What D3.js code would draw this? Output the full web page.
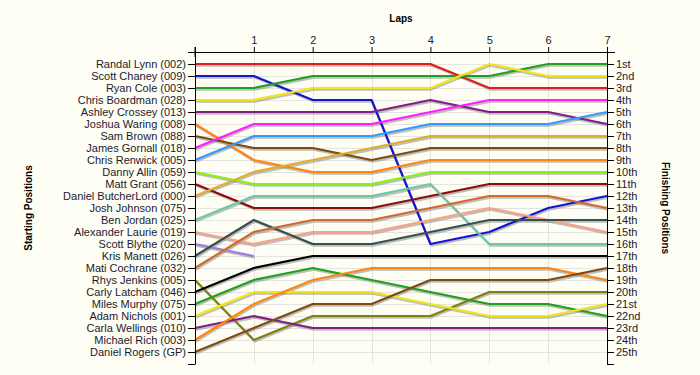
<!DOCTYPE html>
<html>
<head>
<meta charset="utf-8">
<script src="https://cdn.jsdelivr.net/npm/d3@7"></script>
<style>
  html, body { margin: 0; padding: 0; background: #fefef4; }
  svg { display: block; }
  text { font-family: Arial, "Liberation Sans", sans-serif; }
</style>
</head>
<body>
<script>
// ---- Data ----
const laps = [0, 1, 2, 3, 4, 5, 6, 7];
const startNames = [
  "Randal Lynn (002)", "Scott Chaney (009)", "Ryan Cole (003)", "Chris Boardman (028)",
  "Ashley Crossey (013)", "Joshua Waring (008)", "Sam Brown (088)", "James Gornall (018)",
  "Chris Renwick (005)", "Danny Allin (059)", "Matt Grant (056)", "Daniel ButcherLord (000)",
  "Josh Johnson (075)", "Ben Jordan (025)", "Alexander Laurie (019)", "Scott Blythe (020)",
  "Kris Manett (026)", "Mati Cochrane (032)", "Rhys Jenkins (005)", "Carly Latcham (046)",
  "Miles Murphy (075)", "Adam Nichols (001)", "Carla Wellings (010)", "Michael Rich (003)",
  "Daniel Rogers (GP)"
];
const finishLabels = [
  "1st", "2nd", "3rd", "4th", "5th", "6th", "7th", "8th", "9th", "10th",
  "11th", "12th", "13th", "14th", "15th", "16th", "17th", "18th", "19th", "20th",
  "21st", "22nd", "23rd", "24th", "25th"
];
// Position of each driver after each lap (lap 0 = grid), same order as startNames
const racePositions = [
  [1, 1, 1, 1, 1, 3, 3, 3],
  [2, 2, 4, 4, 16, 15, 13, 12],
  [3, 3, 2, 2, 2, 2, 1, 1],
  [4, 4, 3, 3, 3, 1, 2, 2],
  [5, 5, 5, 5, 4, 5, 5, 6],
  [6, 9, 10, 10, 9, 9, 9, 9],
  [7, 8, 8, 9, 8, 8, 8, 8],
  [8, 6, 6, 6, 5, 4, 4, 4],
  [9, 7, 7, 7, 6, 6, 6, 5],
  [10, 11, 11, 11, 10, 10, 10, 10],
  [11, 13, 13, 13, 12, 11, 11, 11],
  [12, 10, 9, 8, 7, 7, 7, 7],
  [],
  [14, 12, 12, 12, 11, 16, 16, 16],
  [15, 16, 15, 15, 14, 13, 14, 15],
  [16, 17],
  [17, 14, 16, 16, 15, 14, 14, 14],
  [18, 15, 14, 14, 13, 12, 12, 13],
  [19, 24, 22, 22, 22, 20, 20, 20],
  [20, 18, 17, 17, 17, 17, 17, 17],
  [21, 19, 18, 19, 20, 21, 21, 22],
  [22, 20, 20, 20, 21, 22, 22, 21],
  [23, 22, 23, 23, 23, 23, 23, 23],
  [24, 21, 19, 18, 18, 18, 18, 19],
  [25, 23, 21, 21, 19, 19, 19, 18]
];
const lineColors = [
  "#e01c1c", "#1414d2", "#1fa01f", "#f2e41a", "#7f1f86", "#ff8410", "#7e4a14", "#ff1cff",
  "#3399ff", "#86f20f", "#8b0a0a", "#dcae2c", "#000000", "#6cc8a4", "#fb9f85", "#9a7ce0",
  "#34504e", "#cf6a2a", "#808010", "#000000", "#1fa01f", "#f2e41a", "#7f1f86", "#ff8410",
  "#7e4a14"
];

// ---- Layout ----
const W = 700, H = 375;
const svg = d3.select("body").append("svg").attr("width", W).attr("height", H);
svg.append("rect").attr("width", W).attr("height", H).attr("fill", "#fefef4");

const x = d3.scaleLinear().domain([0, 7]).range([195, 607]);
const y = d3.scaleLinear().domain([0, 26]).range([52, 364]);
const positions = d3.range(1, 27);

// grid
const grid = svg.append("g").attr("stroke", "#e4e4e0").attr("stroke-width", 1);
grid.selectAll("line.h").data(d3.range(1, 26)).join("line")
  .attr("x1", x(0)).attr("x2", x(7))
  .attr("y1", d => Math.round(y(d)) + 0.5).attr("y2", d => Math.round(y(d)) + 0.5);
grid.selectAll("line.v").data(laps.slice(1, 7)).join("line")
  .attr("x1", d => Math.round(x(d)) + 0.5).attr("x2", d => Math.round(x(d)) + 0.5)
  .attr("y1", y(0)).attr("y2", y(26));

// lines
const line = d3.line().x((d, i) => x(laps[i])).y(d => y(d));
const series = racePositions.map((p, i) => ({ p, c: lineColors[i] })).filter(s => s.p.length > 1);

svg.append("g").selectAll("path").data(series).join("path")
  .attr("d", s => line(s.p))
  .attr("transform", "translate(1,1.6)")
  .attr("fill", "none").attr("stroke", "#8a8a8a").attr("stroke-opacity", 0.55)
  .attr("stroke-width", 2.2).attr("stroke-linejoin", "round");
svg.append("g").selectAll("path").data(series).join("path")
  .attr("d", s => line(s.p))
  .attr("fill", "none").attr("stroke", s => s.c)
  .attr("stroke-width", 2.2).attr("stroke-linejoin", "round");

// axes
const textColor = "#1a1a30";
const topAxis = svg.append("g").attr("transform", `translate(0,${y(0)})`)
  .call(d3.axisTop(x).tickValues(laps).tickFormat(d => d === 0 ? "" : d).tickSize(5).tickSizeOuter(0).tickPadding(3));
const leftAxis = svg.append("g").attr("transform", `translate(${x(0)},0)`)
  .call(d3.axisLeft(y).tickValues(positions).tickFormat(d => startNames[d - 1] || "").tickSize(7).tickSizeOuter(0).tickPadding(2));
const rightAxis = svg.append("g").attr("transform", `translate(${x(7)},0)`)
  .call(d3.axisRight(y).tickValues(positions).tickFormat(d => finishLabels[d - 1] || "").tickSize(7).tickSizeOuter(0).tickPadding(2));

[topAxis, leftAxis, rightAxis].forEach(g => {
  g.selectAll("text").attr("font-size", 11).attr("fill", textColor).attr("font-family", "Arial, 'Liberation Sans', sans-serif");
  g.selectAll("line").attr("stroke", "#000");
  g.select(".domain").attr("stroke", "#000");
});
// extend top axis line across tick area
svg.append("line").attr("x1", x(0) - 7).attr("x2", x(7) + 8)
  .attr("y1", y(0) + 0.5).attr("y2", y(0) + 0.5).attr("stroke", "#000");
svg.append("line").attr("x1", x(0)).attr("x2", x(0)).attr("y1", y(0) - 5).attr("y2", y(0) + 5).attr("stroke", "#000");

// titles
svg.append("text").text("Laps").attr("x", (x(0) + x(7)) / 2).attr("y", 22)
  .attr("text-anchor", "middle").attr("font-size", 10).attr("font-weight", "bold").attr("fill", "#000");
svg.append("text").text("Starting Positions")
  .attr("transform", `translate(32,${(y(0) + y(26)) / 2}) rotate(-90)`)
  .attr("text-anchor", "middle").attr("font-size", 10).attr("font-weight", "bold").attr("fill", "#000");
svg.append("text").text("Finishing Positions")
  .attr("transform", `translate(662,${(y(0) + y(26)) / 2}) rotate(90)`)
  .attr("text-anchor", "middle").attr("font-size", 10).attr("font-weight", "bold").attr("fill", "#000");
</script>
</body>
</html>
